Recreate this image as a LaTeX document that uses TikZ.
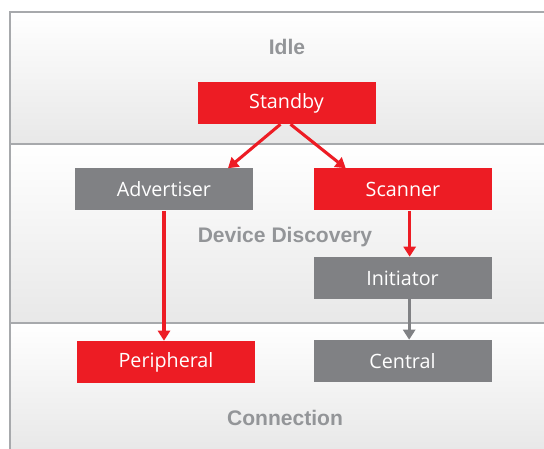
\documentclass[tikz,border=0pt]{standalone}
\usepackage{fontspec}
\setmainfont{Open Sans}
\newfontfamily\labelfont{Liberation Sans}
\usetikzlibrary{arrows.meta}

\definecolor{bleRed}{HTML}{ED1C24}
\definecolor{bleGray}{HTML}{808184}
\definecolor{bandGray}{HTML}{939598}
\definecolor{frameGray}{HTML}{A7A9AC}

\begin{document}
\begin{tikzpicture}[x=0.75pt, y=-0.75pt,
  state/.style={minimum width=133.5pt, minimum height=31.5pt, inner sep=0pt,
    text=white, font=\fontsize{14.8}{16}\selectfont},
  redstate/.style={state, fill=bleRed},
  graystate/.style={state, fill=bleGray},
  band/.style={top color=white, bottom color=black!9},
  bandlabel/.style={text=bandGray, font=\labelfont\bfseries\fontsize{15.8}{17}\selectfont},
  redarrow/.style={draw=bleRed, line width=2.3pt, -{Triangle[length=7.5pt, width=9pt]}},
  grayarrow/.style={draw=bleGray, line width=2.3pt, -{Triangle[length=7.5pt, width=9pt]}}]
  \useasboundingbox (0,0) rectangle (544,449);

  % Bands
  \shade[band] (10,12) rectangle (544,144);
  \shade[band] (10,144) rectangle (544,323);
  \shade[band] (10,323) rectangle (544,449);
  \draw[frameGray, line width=0.9pt] (544,12) -- (10,12) -- (10,449);
  \draw[frameGray, line width=0.9pt] (10,144) -- (544,144);
  \draw[frameGray, line width=0.9pt] (10,323) -- (544,323);

  \node[bandlabel] (idle) at (287,47) {Idle};
  \node[bandlabel] (discovery) at (285,237) {Device Discovery};
  \node[bandlabel] (connection) at (285,418) {Connection};

  % Nodes
  \node[redstate] (standby) at (286.5,103) {Standby};
  \node[graystate] (advertiser) at (164,189.5) {Advertiser};
  \node[redstate] (scanner) at (403,189.5) {Scanner};
  \node[graystate] (initiator) at (402.5,278) {Initiator};
  \node[redstate] (peripheral) at (166,362) {Peripheral};
  \node[graystate] (central) at (402.5,361) {Central};

  % Arrows
  \draw[redarrow] ([xshift=-4.5pt]standby.south) -- ([xshift=48pt]advertiser.north);
  \draw[redarrow] ([xshift=3pt]standby.south) -- ([xshift=-43pt]scanner.north);
  \draw[redarrow] (advertiser.south) -- (advertiser.south |- peripheral.north);
  \draw[redarrow] ([xshift=5pt]scanner.south) -- ([xshift=5pt]scanner.south |- initiator.north);
  \draw[grayarrow] ([xshift=5pt]initiator.south) -- ([xshift=5pt]initiator.south |- central.north);
\end{tikzpicture}
\end{document}
